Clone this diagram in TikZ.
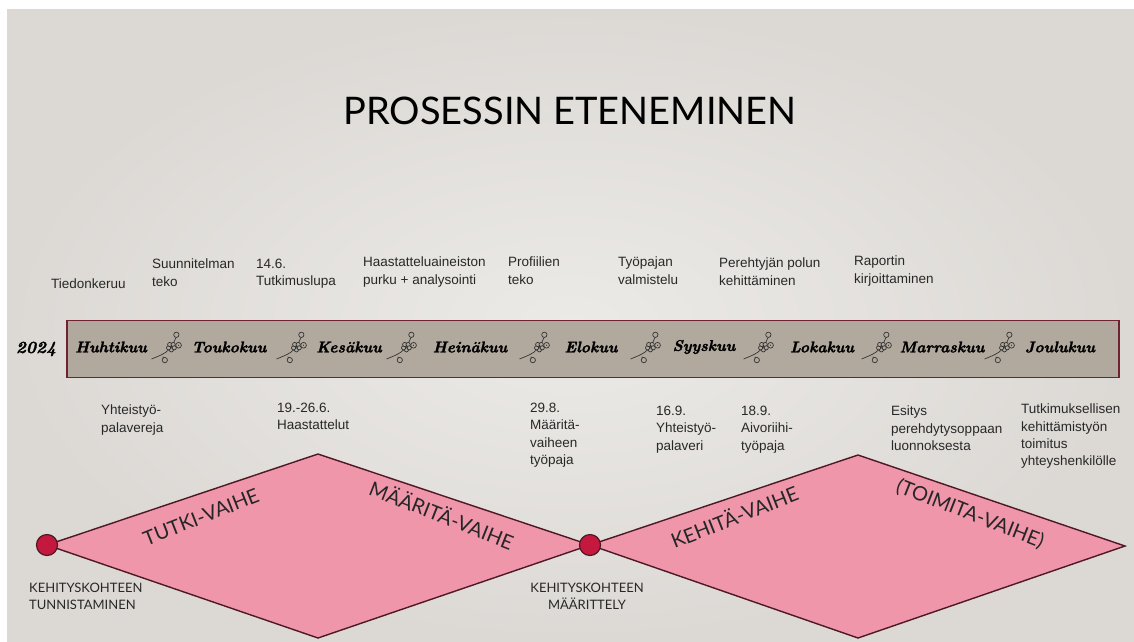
\documentclass[tikz,border=0pt]{standalone}
\usepackage{fontspec}
\setmainfont{Liberation Sans}
\newfontfamily\gill{Lato}
\newfontfamily\lmfont{lmroman10}[Extension=.otf, UprightFont=*-regular, BoldFont=*-bold, ItalicFont=*-italic, BoldItalicFont=*-bolditalic, BoldItalicFeatures={FakeBold=1.6}]
\usetikzlibrary{calc}
\definecolor{bgin}{RGB}{236,234,231}
\definecolor{bgout}{RGB}{220,217,213}
\definecolor{barfill}{RGB}{178,169,158}
\definecolor{barline}{RGB}{110,34,50}
\definecolor{pinkfill}{RGB}{239,150,170}
\definecolor{dline}{RGB}{78,24,36}
\definecolor{dotfill}{RGB}{196,24,62}
\definecolor{txt}{RGB}{40,40,40}
\tikzset{
  body/.style={anchor=north west, inner sep=0pt, align=left, text=txt,
    font=\fontsize{13.5}{17.3}\selectfont, execute at begin node=\strut},
  caps/.style={inner sep=0pt, text=txt, font=\gill\fontsize{13}{17}\selectfont, execute at begin node=\strut},
  month/.style={inner sep=0pt, text=black, font=\lmfont\bfseries\itshape\fontsize{15.5}{18}\selectfont},
  phase/.style={inner sep=0pt, text=black!85, font=\gill\fontsize{20}{22}\selectfont},
  diam/.style={fill=pinkfill, draw=dline, line width=1.4pt, line join=miter},
  dotn/.style={circle, fill=dotfill, draw=dline, line width=1.2pt, minimum size=21pt, inner sep=0pt},
  flw/.style={draw=black!80, line width=0.7pt},
  flower/.pic={
    \begin{scope}[scale=1.1]
    \draw[flw] (-14,10) .. controls (-7,7) and (-1,5) .. (2,1);
    \draw[flw] (2,1) .. controls (5,-3) and (7,-6) .. (8,-9.5);
    \draw[flw] (-4,8) -- (-2.5,8.8);
    \foreach \a in {90,162,234,306,18} \draw[flw, fill=barfill] ($(4,-1)+(\a:2.7)$) circle (1.9);
    \fill[black!80] (4,-1) circle (0.6);
    \draw[flw, fill=barfill] (10.5,-2.5) circle (2.6);
    \fill[black!80] (10.5,-2.5) circle (0.6);
    \draw[flw, fill=barfill] (8.5,-12) circle (2.4);
    \draw[flw, fill=barfill] (-2,11) circle (2.4);
    \end{scope}
  }
}
\begin{document}
\begin{tikzpicture}[x=1pt,y=-1pt]
\useasboundingbox (0,0) rectangle (1134,641);
\fill[white] (0,0) rectangle (1134,641);
\shade[inner color=bgin, outer color=bgout] (7,9) rectangle (1134,641);

% title
\node[inner sep=0pt, text=black, font=\gill\fontsize{38}{42}\selectfont] (title) at (570,110.5) {PROSESSIN ETENEMINEN};

% month bar
\node[draw=barline, fill=barfill, line width=1.8pt, minimum width=1052pt, minimum height=57pt, inner sep=0pt, anchor=north west] (bar) at (66,319.5) {};
\node[month, font=\lmfont\bfseries\itshape\fontsize{17}{20}\selectfont] (y2024) at (36,349) {2024};
\node[month] (m4) at (111,347) {Huhtikuu};
\node[month] (m5) at (229,347) {Toukokuu};
\node[month] (m6) at (349,347) {Kesäkuu};
\node[month] (m7) at (470,347) {Heinäkuu};
\node[month] (m8) at (591,347) {Elokuu};
\node[month] (m9) at (704,347) {Syyskuu};
\node[month] (m10) at (822,347) {Lokakuu};
\node[month] (m11) at (942,347) {Marraskuu};
\node[month] (m12) at (1060,347) {Joulukuu};
\foreach \fx in {167,292,402,535,646,759,877,1000} \pic at (\fx,348) {flower};

% top texts
\node[body] (t1) at (51,276) {Tiedonkeruu};
\node[body] (t2) at (152,259) {Suunnitelman\\teko};
\node[body] (t3) at (256,259) {14.6.\\Tutkimuslupa};
\node[body] (t4) at (363,257) {Haastatteluaineiston\\purku + analysointi};
\node[body] (t5) at (508,257) {Profiilien\\teko};
\node[body] (t6) at (618,257) {Työpajan\\valmistelu};
\node[body] (t7) at (719,258) {Perehtyjän polun\\kehittäminen};
\node[body] (t8) at (854,256) {Raportin\\kirjoittaminen};

% bottom texts
\node[body] (b1) at (101,405) {Yhteistyö-\\palavereja};
\node[body] (b2) at (277,403) {19.-26.6.\\Haastattelut};
\node[body] (b3) at (530,403) {29.8.\\Määritä-\\vaiheen\\työpaja};
\node[body] (b4) at (656,406) {16.9.\\Yhteistyö-\\palaveri};
\node[body] (b5) at (741,406) {18.9.\\Aivoriihi-\\työpaja};
\node[body] (b6) at (891,406) {Esitys\\perehdytysoppaan\\luonnoksesta};
\node[body] (b7) at (1021,404) {Tutkimuksellisen\\kehittämistyön\\toimitus\\yhteyshenkilölle};

% diamonds
\coordinate (aW) at (47,545);
\coordinate (aN) at (318,454);
\coordinate (aE) at (590,545);
\coordinate (aS) at (318,638);
\coordinate (bN) at (858,455);
\coordinate (bE) at (1125,546);
\coordinate (bS) at (858,638);
\draw[diam] (aW) -- (aN) -- (aE) -- (aS) -- cycle;
\draw[diam] (aE) -- (bN) -- (bE) -- (bS) -- cycle;
\node[dotn] (d1) at (aW) {};
\node[dotn] (d2) at (aE) {};

\node[phase, rotate=21.5] (p1) at (201,517) {TUTKI-VAIHE};
\node[phase, rotate=-21.5] (p2) at (442,514) {MÄÄRITÄ-VAIHE};
\node[phase, rotate=21.5] (p3) at (734,516) {KEHITÄ-VAIHE};
\node[phase, rotate=-21.5] (p4) at (970,514) {(TOIMITA-VAIHE)};

% caps labels
\node[caps, anchor=north west, align=left] (c1) at (29,583) {KEHITYSKOHTEEN\\TUNNISTAMINEN};
\node[caps, anchor=north, align=center] (c2) at (587,583) {KEHITYSKOHTEEN\\MÄÄRITTELY};
\end{tikzpicture}
\end{document}
